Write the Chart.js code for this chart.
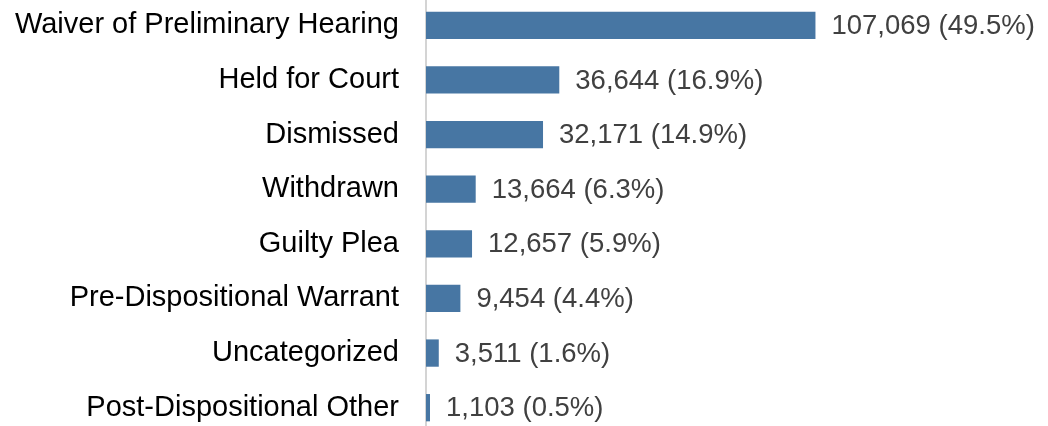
<!DOCTYPE html>
<html>
<head>
<meta charset="utf-8">
<script src="https://cdn.jsdelivr.net/npm/chart.js@4/dist/chart.umd.min.js"></script>
<style>
  html, body { margin: 0; padding: 0; background: #fff; overflow: hidden; }
  #wrap { position: absolute; left: 0; top: -2px; width: 1048px; height: 437px; }
</style>
</head>
<body>
<div id="wrap"><canvas id="barChart"></canvas></div>
<script>
var categories = ['Waiver of Preliminary Hearing', 'Held for Court', 'Dismissed', 'Withdrawn',
    'Guilty Plea', 'Pre-Dispositional Warrant', 'Uncategorized', 'Post-Dispositional Other'];
var counts = [107069, 36644, 32171, 13664, 12657, 9454, 3511, 1103];
var percents = ['49.5', '16.9', '14.9', '6.3', '5.9', '4.4', '1.6', '0.5'];

// draw "count (pct%)" right of each bar
var valueLabels = {
    id: 'valueLabels',
    afterDatasetsDraw: function (chart) {
        var ctx = chart.ctx;
        var meta = chart.getDatasetMeta(0);
        ctx.save();
        ctx.font = '27.5px Arial, "Liberation Sans", sans-serif';
        ctx.fillStyle = '#404040';
        ctx.textAlign = 'left';
        ctx.textBaseline = 'middle';
        meta.data.forEach(function (bar, i) {
            var txt = counts[i].toLocaleString('en-US') + ' (' + percents[i] + '%)';
            ctx.fillText(txt, bar.x + 16, bar.y + 1);
        });
        ctx.restore();
    }
};

var ctxB = document.getElementById('barChart').getContext('2d');
var myBarChart = new Chart(ctxB, {
    type: 'bar',
    data: {
        labels: categories,
        datasets: [{
            data: counts,
            backgroundColor: '#4776a3',
            borderWidth: 0,
            barPercentage: 0.5,
            categoryPercentage: 1
        }]
    },
    options: {
        indexAxis: 'y',
        responsive: true,
        maintainAspectRatio: false,
        animation: false,
        layout: { padding: 0 },
        plugins: {
            legend: { display: false },
            tooltip: { enabled: false }
        },
        scales: {
            x: {
                display: false,
                min: 0,
                max: 171000
            },
            y: {
                afterFit: function (scale) {
                    scale.width = 426;
                    scale.paddingTop = 0;
                    scale.paddingBottom = 0;
                },
                grid: { display: false, drawTicks: false },
                border: { display: true, color: '#d4d4d4', width: 2 },
                ticks: {
                    color: '#000',
                    padding: 27,
                    font: { family: 'Arial, "Liberation Sans", sans-serif', size: 29 }
                }
            }
        }
    },
    plugins: [valueLabels]
});
</script>
</body>
</html>
